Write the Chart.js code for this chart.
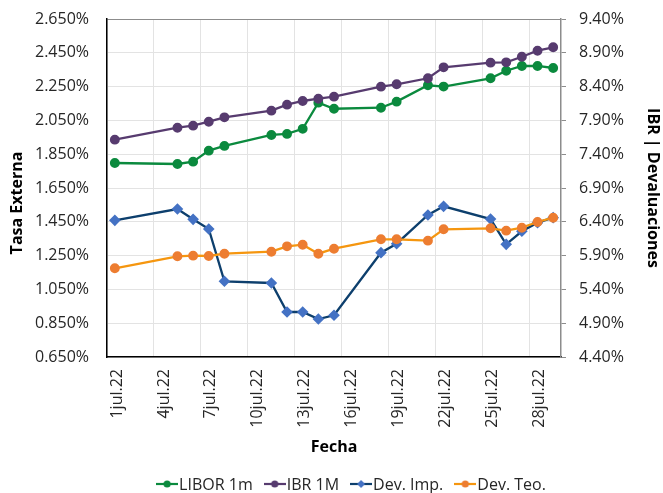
<!DOCTYPE html>
<html>
<head>
<meta charset="utf-8">
<script src="https://cdn.jsdelivr.net/npm/chart.js@4/dist/chart.umd.min.js"></script>
<style>
  html, body { margin: 0; padding: 0; background: #fff; }
  #wrap { width: 663px; height: 493px; }
</style>
</head>
<body>
<div id="wrap"><canvas id="tasasChart" width="663" height="493"></canvas></div>
<script>
// dias habiles de julio 2022 con dato
const days = [1, 5, 6, 7, 8, 11, 12, 13, 14, 15, 18, 19, 21, 22, 25, 26, 27, 28, 29];
const libor = [1.798, 1.792, 1.806, 1.871, 1.899, 1.964, 1.970, 2.000, 2.155, 2.119, 2.125, 2.161, 2.258, 2.250, 2.299, 2.344, 2.372, 2.372, 2.360];
const ibr = [7.615, 7.792, 7.822, 7.881, 7.945, 8.044, 8.133, 8.187, 8.221, 8.251, 8.399, 8.434, 8.523, 8.685, 8.754, 8.759, 8.842, 8.931, 8.981];
const devImp = [6.422, 6.589, 6.437, 6.294, 5.520, 5.495, 5.066, 5.066, 4.962, 5.017, 5.943, 6.076, 6.501, 6.629, 6.441, 6.067, 6.260, 6.387, 6.461];
const devTeo = [5.712, 5.890, 5.899, 5.894, 5.928, 5.958, 6.037, 6.061, 5.928, 6.002, 6.141, 6.141, 6.121, 6.289, 6.304, 6.269, 6.313, 6.397, 6.461];
const tickDays = [1, 4, 7, 10, 13, 16, 19, 22, 25, 28];
const monthLabel = 'jul.22';

const FONT = "'Open Sans', 'Noto Sans', sans-serif";

function points(values) {
  return days.map((d, i) => ({ x: d, y: values[i] }));
}

// small line + marker icon for the legend
function legendIcon(lineColor, markColor, shape) {
  const c = document.createElement('canvas');
  c.width = 22; c.height = 10;
  const g = c.getContext('2d');
  g.strokeStyle = lineColor;
  g.lineWidth = 2.2;
  g.beginPath(); g.moveTo(0, 5); g.lineTo(22, 5); g.stroke();
  g.fillStyle = markColor;
  g.beginPath();
  if (shape === 'diamond') {
    g.moveTo(11, 1); g.lineTo(15, 5); g.lineTo(11, 9); g.lineTo(7, 5); g.closePath();
  } else {
    g.arc(11, 5, 3.6, 0, Math.PI * 2);
  }
  g.fill();
  return c;
}

// legend drawn by hand so the line runs through the marker like in Excel,
// plus the left axis title, which sits a bit below the plot centre
const extras = {
  id: 'extras',
  afterDraw(chart) {
    const c = chart.ctx;
    c.save();
    c.font = '16px ' + FONT;
    c.textBaseline = 'middle';
    c.fillStyle = '#262626';
    const items = chart.data.datasets.map(ds => ({ ds, w: c.measureText(ds.label).width }));
    const iconW = 22, textGap = 1, itemGap = 11;
    const total = items.reduce((s, it) => s + iconW + textGap + it.w, 0) + itemGap * (items.length - 1);
    let x = 351 - total / 2;
    items.forEach(it => {
      c.drawImage(it.ds.icon, x, 479);
      x += iconW + textGap;
      c.fillText(it.ds.label, x, 485);
      x += it.w + itemGap;
    });

    c.font = 'bold 16px ' + FONT;
    c.fillStyle = '#000';
    c.textAlign = 'center';
    c.translate(17, 203);
    c.rotate(-Math.PI / 2);
    c.fillText('Tasa Externa', 0, 0);
    c.restore();
  }
};

// keep the tick padding from pushing the plot down
function fixPad(width) {
  return axis => { axis.width = width; axis.paddingTop = 10; axis.paddingBottom = 10; };
}

const series = [
  { label: 'LIBOR 1m', data: libor, axis: 'y', line: '#0b8a3e', mark: '#0b8a3e', shape: 'circle', order: 3 },
  { label: 'IBR 1M', data: ibr, axis: 'y2', line: '#573b6f', mark: '#573b6f', shape: 'circle', order: 2 },
  { label: 'Dev. Imp.', data: devImp, axis: 'y2', line: '#0d3f6d', mark: '#4472c4', shape: 'diamond', order: 1 },
  { label: 'Dev. Teo.', data: devTeo, axis: 'y2', line: '#f5960f', mark: '#ed7d31', shape: 'circle', order: 0 }
];

const ctx = document.getElementById('tasasChart').getContext('2d');
new Chart(ctx, {
  type: 'line',
  data: {
    datasets: series.map(s => ({
      label: s.label,
      data: points(s.data),
      yAxisID: s.axis,
      borderColor: s.line,
      backgroundColor: s.mark,
      pointBackgroundColor: s.mark,
      pointBorderColor: s.mark,
      pointStyle: s.shape === 'diamond' ? 'rectRot' : 'circle',
      pointRadius: s.shape === 'diamond' ? 4.2 : 3.8,
      borderWidth: 2.3,
      order: s.order,
      fill: false,
      tension: 0,
      icon: legendIcon(s.line, s.mark, s.shape)
    }))
  },
  plugins: [extras],
  options: {
    responsive: false,
    animation: false,
    layout: { padding: { top: 19, right: 1, left: 7, bottom: 0 } },
    plugins: {
      tooltip: { enabled: false },
      legend: { display: false }
    },
    scales: {
      x: {
        type: 'linear',
        min: 0.5,
        max: 29.5,
        afterBuildTicks: axis => { axis.ticks = tickDays.map(d => ({ value: d - 0.5 })); },
        afterFit: axis => { axis.height = 136; },
        ticks: {
          autoSkip: false,
          minRotation: 90,
          maxRotation: 90,
          labelOffset: 10,
          padding: 12,
          font: { family: FONT, size: 16 },
          color: '#262626',
          callback: v => (v + 0.5) + monthLabel
        },
        grid: { color: '#e3e3e3', drawTicks: false },
        border: { color: '#000', width: 1.5 },
        title: { display: true, text: 'Fecha', font: { family: FONT, size: 16, weight: 'bold' }, color: '#000', padding: { top: 0, bottom: 36 } }
      },
      y: {
        position: 'left',
        min: 0.65,
        max: 2.65,
        afterFit: fixPad(100),
        ticks: {
          stepSize: 0.2,
          padding: 18,
          font: { family: FONT, size: 16 },
          color: '#262626',
          callback: v => v.toFixed(3) + '%'
        },
        grid: { color: c => c.index === 10 ? '#8c8c8c' : '#e3e3e3', drawTicks: false },
        border: { color: '#000', width: 1.5 }
      },
      y2: {
        position: 'right',
        min: 4.4,
        max: 9.4,
        afterFit: fixPad(101),
        ticks: {
          stepSize: 0.5,
          padding: 13,
          font: { family: FONT, size: 16 },
          color: '#262626',
          callback: v => v.toFixed(2) + '%'
        },
        grid: { drawOnChartArea: false, color: '#8c8c8c', tickLength: 5 },
        border: { color: '#8c8c8c', width: 1.5 },
        title: { display: true, text: 'IBR | Devaluaciones', font: { family: FONT, size: 16, weight: 'bold' }, color: '#000', padding: 0 }
      }
    }
  }
});
</script>
</body>
</html>
